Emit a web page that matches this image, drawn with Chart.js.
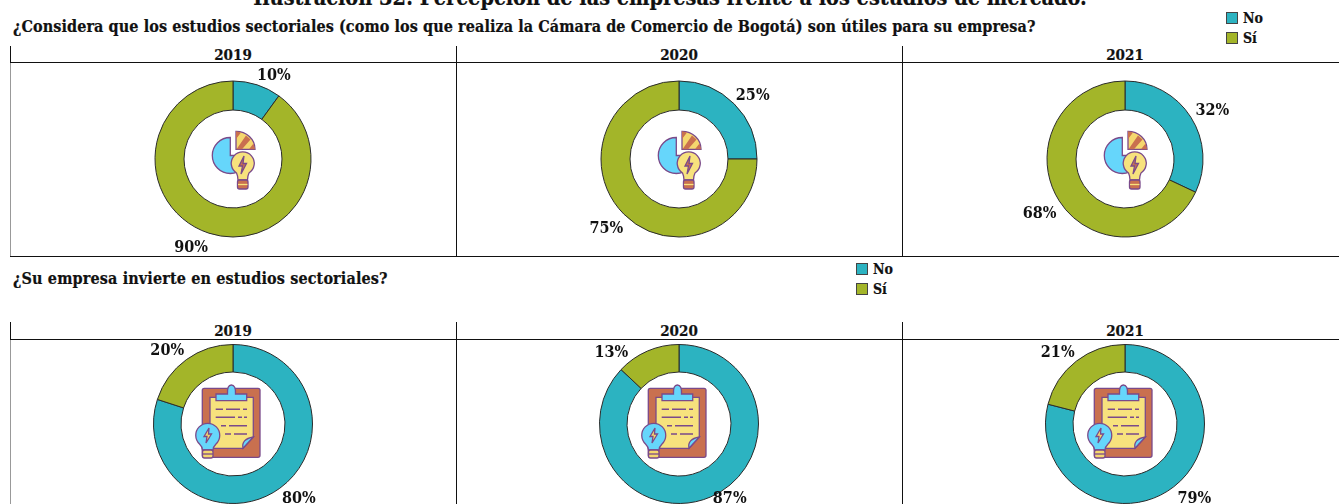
<!DOCTYPE html>
<html lang="es">
<head>
<meta charset="utf-8">
<title>Percepción de las empresas frente a los estudios de mercado</title>
<script src="https://cdn.jsdelivr.net/npm/chart.js@4"></script>
<style>
html, body { margin: 0; padding: 0; background: #fff; }
body { position: relative; width: 1339px; height: 504px; overflow: hidden; font-family: "DejaVu Serif Condensed", "DejaVu Serif", serif; font-weight: bold; color: #111; }
.txt { position: absolute; white-space: nowrap; line-height: 1; -webkit-text-stroke: 0.2px #111; }
.ln { position: absolute; }
.sw { position: absolute; width: 10px; height: 10px; border: 1px solid #444; }
canvas { position: absolute; }
svg.ic { position: absolute; overflow: visible; width: 1px; height: 1px; }
</style>
</head>
<body>
<svg width="0" height="0" style="position:absolute">
  <defs>
    <symbol id="icon-pie" overflow="visible" viewBox="0 0 1 1">
      <g stroke="#7a4a8a" stroke-width="1.3">
        <path d="M-2.7,-21.5 A18,18 0 1 0 15.3,-3.5 L-2.7,-3.5 Z" fill="#66d6fb"/>
        <path d="M3,-27.7 A19,18 0 0 1 22,-9.7 L3,-9.7 Z" fill="#f5d76e"/>
        <path d="M3,-27.7 L8,-26.6 L3,-20 Z M13,-23.5 L17.5,-19.5 L9,-9.7 L3.5,-9.7 Z M20.5,-15.5 L22,-9.7 L16,-9.7 Z" fill="#c9704f" stroke="none"/>
        <path d="M3.5,14 A11.5,11.5 0 1 1 16,14 Q14.5,17 14.5,21 L5,21 Q5,17 3.5,14 Z" fill="#f7e27d"/>
        <path d="M11,-3 L6,7 L9.5,7 L8,15 L13.5,4.5 L10,4.5 Z" fill="#c9704f"/>
        <rect x="4.5" y="21" width="10.5" height="9" rx="2" fill="#c9704f"/>
        <path d="M5,25.5 H14.5" stroke="#f7e27d"/>
      </g>
    </symbol>
    <symbol id="icon-clip" overflow="visible" viewBox="0 0 1 1">
      <g stroke="#7a4a8a" stroke-width="1.3">
        <rect x="-30.7" y="-35.7" width="57.7" height="69" rx="2" fill="#c9704f"/>
        <path d="M-23,-26.7 H20.3 V13 L10,24.3 H-23 Z" fill="#f7e27d"/>
        <path d="M20.3,13 L10,24.3 Q8,15 20.3,13 Z" fill="#66d6fb"/>
        <path d="M-17,-23.3 V-30 H-5.5 Q-6,-39 -1.7,-39 Q3,-39 2.5,-30 H13.7 V-23.3 Z" fill="#66d6fb"/>
        <path d="M-17.3,-14.7 H-10 M-7,-14.7 H7 M10,-14.7 H14 M-17.3,-6.7 H2 M5,-6.7 H9 M11,-6.7 H14 M-12,1.7 H-7 M-4,1.7 H14 M-8,10 H-2 M1,10 H14" fill="none" stroke-width="1.6"/>
        <path d="M-33.5,20 A12,12 0 1 1 -17,20 Q-20,23 -20,26 L-30.5,26 Q-30.5,23 -33.5,20 Z" fill="#66d6fb"/>
        <rect x="-30.5" y="26" width="10.5" height="8" rx="2" fill="#f5d76e"/>
        <path d="M-30.5,30 H-20" fill="none"/>
        <path d="M-24,4 L-29,12.5 L-26,12.5 L-27,19 L-21.5,10 L-24.5,10 Z" fill="#f5d76e"/>
      </g>
    </symbol>
  </defs>
</svg>
<script>
var titleTop = 'Ilustración 32: Percepción de las empresas frente a los estudios de mercado.';
var question1 = '¿Considera que los estudios sectoriales (como los que realiza la Cámara de Comercio de Bogotá) son útiles para su empresa?';
var question2 = '¿Su empresa invierte en estudios sectoriales?';
var categories = ['No', 'Sí'];
var years = ['2019', '2020', '2021'];
var util2019 = [10, 90];
var util2020 = [25, 75];
var util2021 = [32, 68];
var invest2019 = [80, 20];
var invest2020 = [87, 13];
var invest2021 = [79, 21];

var colors = ['#2cb3c1', '#a3b529'];
var centersX = [233, 679, 1125];

function addText(str, x, y, size, center, spacing) {
    var d = document.createElement('div');
    d.className = 'txt';
    d.textContent = str;
    d.style.left = x + 'px';
    d.style.top = y + 'px';
    d.style.fontSize = size + 'px';
    if (spacing) d.style.letterSpacing = spacing + 'px';
    if (center) d.style.transform = 'translateX(-50%)';
    document.body.appendChild(d);
}
function addLine(x, y, w, h, c) {
    var d = document.createElement('div');
    d.className = 'ln';
    d.style.cssText = 'left:' + x + 'px;top:' + y + 'px;width:' + w + 'px;height:' + h + 'px;background:' + (c || '#111');
    document.body.appendChild(d);
}
function addLegend(x, y) {
    categories.forEach(function (c, i) {
        var s = document.createElement('div');
        s.className = 'sw';
        s.style.left = x + 'px';
        s.style.top = (y + i * 20) + 'px';
        s.style.background = colors[i];
        document.body.appendChild(s);
        addText(c, x + 17, y - 1 + i * 20, 14);
    });
}

// labels sit on the slice's mid angle, then a small nudge
var sliceLabels = {
    id: 'sliceLabels',
    afterDatasetsDraw: function (chart, args, opts) {
        var ctx = chart.ctx;
        var arcs = chart.getDatasetMeta(0).data;
        ctx.save();
        ctx.font = 'bold 16px "DejaVu Serif Condensed", "DejaVu Serif", serif';
        ctx.fillStyle = '#111';
        ctx.textAlign = 'center';
        ctx.textBaseline = 'middle';
        arcs.forEach(function (arc, i) {
            var mid = (arc.startAngle + arc.endAngle) / 2;
            var x = arc.x + Math.cos(mid) * 100 + opts.nudge[i][0];
            var y = arc.y + Math.sin(mid) * 100 + opts.nudge[i][1];
            ctx.fillText(chart.data.datasets[0].data[i] + '%', x, y);
        });
        ctx.restore();
    }
};

function addDonut(values, cx, cy, radius, cutout, nudge, icon) {
    var w = 300, h = 220;
    var c = document.createElement('canvas');
    c.width = w;
    c.height = h;
    c.style.left = (cx - w / 2) + 'px';
    c.style.top = (cy - h / 2) + 'px';
    document.body.appendChild(c);
    new Chart(c, {
        type: 'doughnut',
        data: {
            labels: categories,
            datasets: [{
                data: values,
                backgroundColor: colors,
                borderColor: '#2b2b2b',
                borderWidth: 1
            }]
        },
        options: {
            responsive: false,
            animation: false,
            radius: radius,
            cutout: cutout,
            plugins: {
                legend: { display: false },
                tooltip: { enabled: false },
                sliceLabels: { nudge: nudge }
            }
        },
        plugins: [sliceLabels]
    });
    var svg = document.createElementNS('http://www.w3.org/2000/svg', 'svg');
    svg.setAttribute('class', 'ic');
    svg.style.left = cx + 'px';
    svg.style.top = cy + 'px';
    var u = document.createElementNS('http://www.w3.org/2000/svg', 'use');
    u.setAttribute('href', icon);
    u.setAttribute('width', '1');
    u.setAttribute('height', '1');
    svg.appendChild(u);
    document.body.appendChild(svg);
}

addText(titleTop, 670, -13, 21.5, true);
addText(question1, 13, 19, 16, false, 0.085);
addText(question2, 13, 271, 16, false, 0.14);
addLegend(1226, 12);
addLegend(856, 263);

// panel rules
addLine(10, 46, 1, 16);
addLine(10, 62, 1, 194, '#999');
addLine(456, 46, 1, 210);
addLine(902, 46, 1, 210);
addLine(10, 62, 1329, 1);
addLine(10, 256, 1329, 1);
addLine(10, 322, 1, 17);
addLine(10, 339, 1, 165, '#999');
addLine(456, 322, 1, 182);
addLine(902, 322, 1, 182);
addLine(10, 339, 1329, 1);

years.forEach(function (y, i) {
    addText(y, centersX[i], 48, 15, true);
    addText(y, centersX[i], 324, 15, true);
});

addDonut(util2019, centersX[0], 159, 78, '62.8%', [[10, 12], [-11, -6]], '#icon-pie');
addDonut(util2020, centersX[1], 159, 78, '62.8%', [[3, 8], [-2, -1]], '#icon-pie');
addDonut(util2021, centersX[2], 159, 78, '62.8%', [[3, 5], [-1, 1]], '#icon-pie');
addDonut(invest2019, centersX[0], 424, 79.5, '65.4%', [[7, -6], [-7, 8]], '#icon-clip');
addDonut(invest2020, centersX[1], 424, 79.5, '65.4%', [[11, -17], [-28, 21]], '#icon-clip');
addDonut(invest2021, centersX[2], 424, 79.5, '65.4%', [[8, -4], [-6, 8]], '#icon-clip');
</script>
</body>
</html>
